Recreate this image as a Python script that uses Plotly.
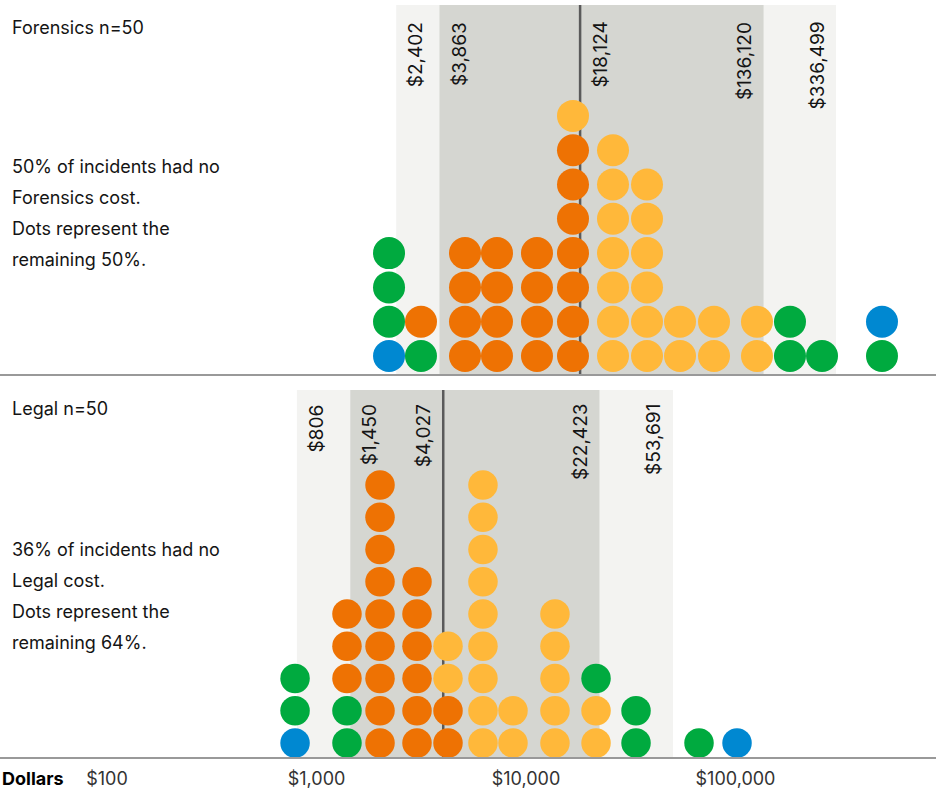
import numpy as np
import plotly.graph_objects as go

W, H = 940, 794

# ---------------- data ----------------
# dot bins (dollar value of each column) and stacked category codes bottom->top
# B = extreme, G = outer band, O = lower-middle, Y = upper-middle
forensics_bins = [2219, 3153, 5115, 7270, 11283, 16760, 26020, 37810, 54350,
                  78960, 126630, 182000, 258800, 500300]
forensics_stacks = ["BGGG", "GO", "OOOO", "OOOO", "OOOO", "OOOOOOOY",
                    "YYYYYYY", "YYYYYY", "YY", "YY", "YY", "GG", "G", "GB"]

legal_bins = [790, 1398, 2010, 3018, 4243, 6232, 8668, 13750, 21590, 33510,
              66960, 101700]
legal_stacks = ["BGG", "GGOOO", "OOOOOOOOO", "OOOOOO", "OOYY", "YYYYYYYYY",
                "YY", "YYYYY", "YYG", "GG", "G", "B"]

# percentile labels and band edges
forensics_labels = [2402, 3863, 18124, 136120, 336499]
forensics_light = [2402, 301800]
forensics_dark = [3863, 136120]
forensics_median = 18124

legal_labels = [806, 1450, 4027, 22423, 53691]
legal_light = [806, 50300]
legal_dark = [1450, 22423]
legal_median = 4027

forensics_title = "Forensics n=50"
forensics_note = ["50% of incidents had no", "Forensics cost.",
                  "Dots represent the", "remaining 50%."]
legal_title = "Legal n=50"
legal_note = ["36% of incidents had no", "Legal cost.",
              "Dots represent the", "remaining 64%."]

tick_vals = [100, 1000, 10000, 100000]
tick_text = ["$100", "$1,000", "$10,000", "$100,000"]

# ---------------- styles ----------------
COLORS = {"B": "#0088d1", "G": "#00aa3f", "O": "#ee7203", "Y": "#ffb83a"}
LIGHT = "#f3f3f1"
DARK = "#d5d6d1"
MEDIAN = "#5a5a5a"
TXT = "#141414"
FONT = "Inter, Liberation Sans, Arial, sans-serif"


def py(px):
    return 1 - px / H


# x range in log units
x0_log = 2 - 107 / 209.5
x1_log = x0_log + W / 209.5

top_dom = [py(375), py(5)]
bot_dom = [py(758), py(390)]
top_yr = [-(375 - 356) / 34.3, (356 - 5) / 34.3]
bot_yr = [-(758 - 743) / 32.25, (743 - 390) / 32.25]

fig = go.Figure()


def add_panel(bins, stacks, light, dark, median, xa, ya, yr, msize):
    lo, hi = yr
    for (a, b), col in ((light, LIGHT), (dark, DARK)):
        fig.add_trace(go.Scatter(x=[a, a, b, b, a], y=[lo, hi, hi, lo, lo],
                                 fill="toself", fillcolor=col, mode="lines",
                                 line=dict(width=0), hoverinfo="skip",
                                 showlegend=False, xaxis=xa, yaxis=ya))
    fig.add_trace(go.Scatter(x=[median, median], y=[lo, hi], mode="lines",
                             line=dict(color=MEDIAN, width=2.5),
                             hoverinfo="skip", showlegend=False,
                             xaxis=xa, yaxis=ya))
    xs, ys, cs = [], [], []
    for v, st in zip(bins, stacks):
        for k, c in enumerate(st):
            xs.append(v)
            ys.append(k)
            cs.append(COLORS[c])
    fig.add_trace(go.Scatter(x=xs, y=ys, mode="markers",
                             marker=dict(size=msize, color=cs,
                                         line=dict(width=0)),
                             showlegend=False, xaxis=xa, yaxis=ya,
                             cliponaxis=False))


add_panel(forensics_bins, forensics_stacks, forensics_light, forensics_dark,
          forensics_median, "x", "y", top_yr, 32)
add_panel(legal_bins, legal_stacks, legal_light, legal_dark,
          legal_median, "x2", "y2", bot_yr, 29.5)

annotations = []


def fmt(v):
    return "$" + f"{v:,}"


def add_labels(labels, positions, sides, xref, top_px):
    for lab, pos, side in zip(labels, positions, sides):
        annotations.append(dict(
            x=np.log10(pos), xref=xref, y=py(top_px), yref="paper",
            text=fmt(lab), textangle=-90, showarrow=False,
            xanchor="left" if side == "r" else "right", yanchor="top",
            xshift=6 if side == "r" else -6,
            font=dict(family=FONT, size=19, color=TXT)))


add_labels(forensics_labels,
           [forensics_light[0], forensics_dark[0], forensics_median,
            forensics_dark[1], forensics_light[1]],
           ["r", "r", "r", "l", "l"], "x", 20)
add_labels(legal_labels,
           [legal_light[0], legal_dark[0], legal_median,
            legal_dark[1], legal_light[1]],
           ["r", "r", "l", "l", "l"], "x2", 402)


def add_text(title, note, title_px, note_px):
    annotations.append(dict(x=0.0105, xref="paper", y=py(title_px),
                            yref="paper", text=title, showarrow=False,
                            xanchor="left", yanchor="middle",
                            font=dict(family=FONT, size=18, color=TXT)))
    for line, p in zip(note, note_px):
        annotations.append(dict(x=0.0105, xref="paper", y=py(p),
                                yref="paper", text=line, showarrow=False,
                                xanchor="left", yanchor="middle",
                                font=dict(family=FONT, size=18, color=TXT)))


add_text(forensics_title, forensics_note, 28, [166, 197, 228, 259])
add_text(legal_title, legal_note, 408, [549, 580, 611, 642])

annotations.append(dict(x=0, xref="paper", y=py(778), yref="paper",
                        text="<b>Dollars</b>", showarrow=False,
                        xanchor="left", yanchor="middle",
                        font=dict(family=FONT, size=18, color="#000")))

shapes = [
    dict(type="line", xref="paper", yref="paper", x0=0, x1=936 / W,
         y0=py(375), y1=py(375), line=dict(color="#999999", width=2)),
    dict(type="line", xref="paper", yref="paper", x0=0, x1=936 / W,
         y0=py(758), y1=py(758), line=dict(color="#999999", width=2)),
]

axis_common = dict(type="log", range=[x0_log, x1_log], domain=[0, 1],
                   showgrid=False, zeroline=False, showline=False,
                   fixedrange=True)
fig.update_layout(
    width=W, height=H,
    margin=dict(l=0, r=0, t=0, b=0),
    paper_bgcolor="white", plot_bgcolor="rgba(0,0,0,0)",
    xaxis=dict(**axis_common, anchor="y", showticklabels=False, ticks=""),
    xaxis2=dict(**axis_common, anchor="y2", tickvals=tick_vals,
                ticktext=tick_text, ticks="", ticklabelstandoff=8,
                tickfont=dict(family=FONT, size=18, color="#333")),
    yaxis=dict(domain=top_dom, range=top_yr, visible=False, fixedrange=True),
    yaxis2=dict(domain=bot_dom, range=bot_yr, visible=False, fixedrange=True),
    annotations=annotations,
    shapes=shapes,
    showlegend=False,
    hovermode=False,
)

fig.write_html("out.html",
               config={"displayModeBar": False, "staticPlot": True},
               post_script="document.body.style.margin='0';"
                           "document.body.style.overflow='hidden';")
